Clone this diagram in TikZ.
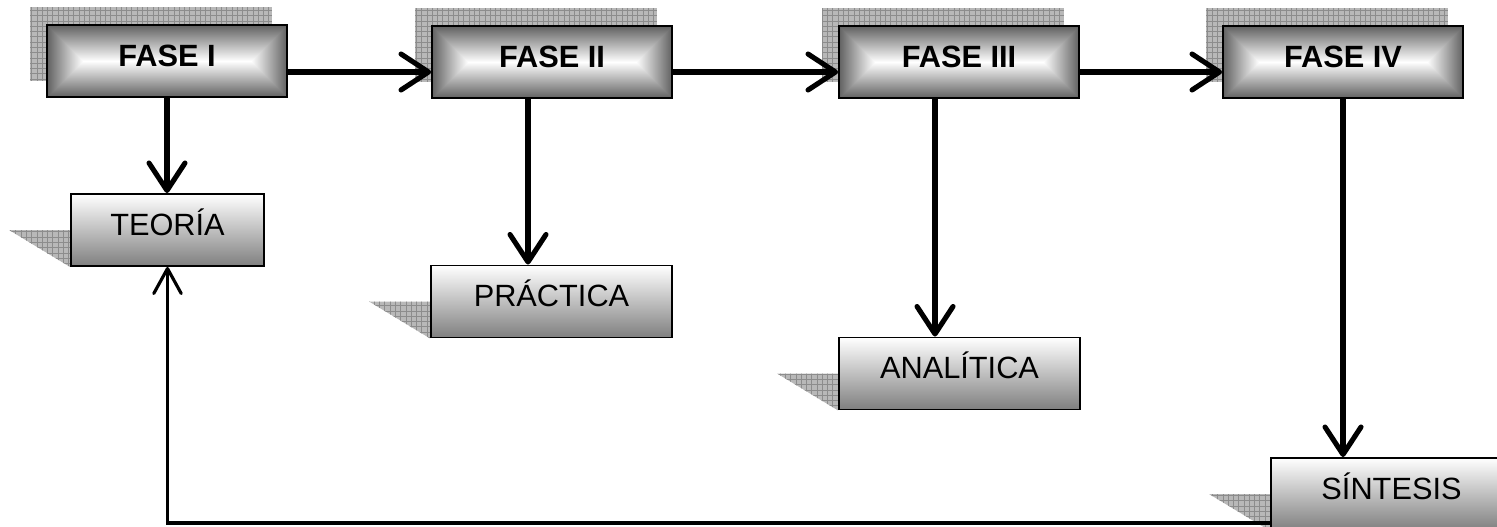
\documentclass[tikz,border=0pt]{standalone}
\usepackage{fontspec}
\setmainfont{Liberation Sans}
\usetikzlibrary{arrows.meta,backgrounds,patterns}

\pgfdeclarefunctionalshading{fasesh}{\pgfpoint{-50bp}{-50bp}}{\pgfpoint{50bp}{50bp}}{}{
  25 div abs 1 exch sub exch 25 div abs 1 exch sub 3.33 mul
  2 copy gt {exch} if pop 0.62 mul 0.38 add dup dup}

\begin{document}
\begin{tikzpicture}
[x=0.02cm,y=-0.02cm
,box/.style={rectangle,draw,line width=1.1pt,minimum height=1.44cm,text height=0.43cm,text depth=0.22cm,font=\fontsize{17.5}{20}\selectfont}
,fase/.style={box,minimum width=4.8cm,shade,shading=fasesh,font=\fontsize{17.5}{20}\selectfont\bfseries}
,sub/.style={box,minimum width=4.82cm,top color=white,bottom color=black!50}
,sh/.style={fill=black!28,postaction={pattern=grid,pattern color=black!45}}
,ar/.style={line width=2.9pt,arrows={-Straight Barb[round,length=0.55cm,width=0.72cm]}}
,fb/.style={line width=1.8pt,arrows={-Straight Barb[round,length=0.5cm,width=0.55cm]}}]
\useasboundingbox (0,0) rectangle (1497,527);

\node[fase] (f1) at (167,61) {FASE I};
\node[fase] (f2) at (552,62) {FASE II};
\node[fase] (f3) at (959,62) {FASE III};
\node[fase] (f4) at (1343,62) {FASE IV};

\node[sub,minimum width=3.86cm] (s1) at (167.5,230) {TEORÍA};
\node[sub] (s2) at (551.5,301.5) {PRÁCTICA};
\node[sub] (s3) at (959.5,373.5) {ANALÍTICA};
\node[sub] (s4) at (1391.5,494) {SÍNTESIS};

% shadows
\begin{scope}[on background layer]
\foreach \n in {f1,f2,f3,f4}
  \path[sh] ([shift={(-16,-17)}]\n.south west) rectangle ([shift={(-16,-17)}]\n.north east);
\foreach \n in {s1,s2,s3,s4}
  \path[sh] ([shift={(-61,0)}]\n.west) -- (\n.west) -- (\n.south west) -- cycle;
\end{scope}

\draw[ar] ([shift={(0,11)}]f1.east) -- ([shift={(0,11)}]f1.east -| f2.west);
\draw[ar] ([shift={(0,10)}]f2.east) -- ([shift={(0,10)}]f2.east -| f3.west);
\draw[ar] ([shift={(0,10)}]f3.east) -- ([shift={(0,10)}]f3.east -| f4.west);

\draw[ar] (f1.south) -- (f1.south |- s1.north);
\draw[ar] ([shift={(-24,0)}]f2.south) -- ([shift={(-24,0)}]f2.south |- s2.north);
\draw[ar] ([shift={(-24,0)}]f3.south) -- ([shift={(-24,0)}]f3.south |- s3.north);
\draw[ar] (f4.south) -- (f4.south |- s4.north);

\draw[fb] ([shift={(0,-8)}]s4.south west) -| (s1.south);
\end{tikzpicture}
\end{document}
